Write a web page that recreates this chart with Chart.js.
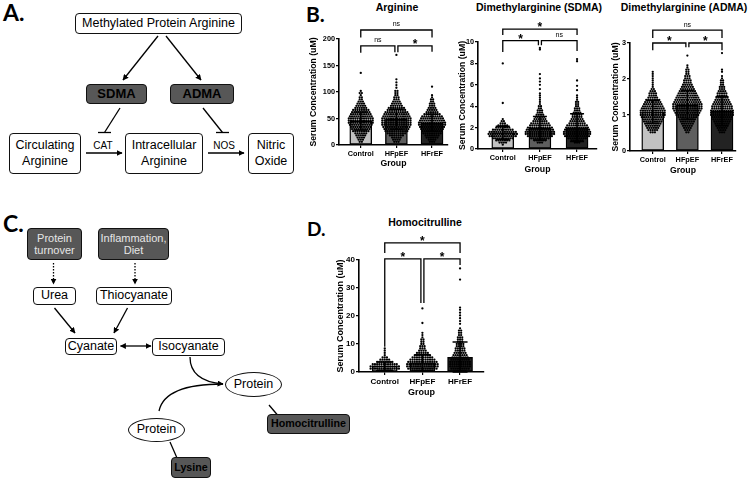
<!DOCTYPE html>
<html><head><meta charset="utf-8">
<script src="https://cdn.jsdelivr.net/npm/chart.js@4.4.1/dist/chart.umd.min.js"></script>
<style>
html,body{margin:0;padding:0;background:#fff}
body{width:750px;height:481px;position:relative;overflow:hidden;font-family:"Liberation Sans",Arial,sans-serif;color:#000}
.box{position:absolute;box-sizing:border-box;border:1.3px solid #111;border-radius:4px;background:#fff;display:flex;align-items:center;justify-content:center;text-align:center;font-size:12.5px;line-height:15.5px;white-space:nowrap}
.dark{background:#575757;border-radius:4px}
.ell{border-radius:50%}
.lbl{position:absolute;font-size:10px;transform:translate(-50%,-50%);white-space:nowrap}
.ttl{position:absolute;font-weight:bold;font-size:10.5px;transform:translate(-50%,-50%);white-space:nowrap}
.let{position:absolute;font-family:Lato,"Open Sans",sans-serif;font-weight:bold;line-height:1;white-space:nowrap}
canvas{position:absolute}
svg{position:absolute;left:0;top:0}
</style></head><body>

<svg width="750" height="481">
<defs>
<marker id="ah" viewBox="0 0 10 10" refX="9" refY="5" markerWidth="6" markerHeight="6" markerUnits="userSpaceOnUse" orient="auto-start-reverse"><path d="M0,0 L10,5 L0,10 z" fill="#000"/></marker>
</defs>
<g stroke="#000" stroke-width="1.3" fill="none">
<line x1="158" y1="36" x2="123" y2="80" marker-end="url(#ah)"/>
<line x1="166" y1="36" x2="201" y2="80" marker-end="url(#ah)"/>
<line x1="120" y1="108" x2="104.5" y2="132.5"/>
<line x1="98" y1="132.5" x2="111" y2="132.5"/>
<line x1="203" y1="108" x2="222.5" y2="132.5"/>
<line x1="216" y1="132.5" x2="229" y2="132.5"/>
<line x1="86" y1="153" x2="122" y2="153" marker-end="url(#ah)"/>
<line x1="208" y1="153" x2="244" y2="153" marker-end="url(#ah)"/>
<line x1="53.5" y1="263" x2="53.5" y2="284" stroke-dasharray="1.5,1.5" marker-end="url(#ah)"/>
<line x1="135" y1="263" x2="135" y2="284" stroke-dasharray="1.5,1.5" marker-end="url(#ah)"/>
<line x1="54.5" y1="308" x2="75" y2="333" marker-end="url(#ah)"/>
<line x1="127.5" y1="308" x2="114" y2="333" marker-end="url(#ah)"/>
<line x1="120.5" y1="346" x2="151" y2="346" marker-start="url(#ah)" marker-end="url(#ah)"/>
<path d="M190,357 C190,373 200,382 223,384" marker-end="url(#ah)"/>
<path d="M159,411 C163,392 186,384 223,384"/>
<line x1="269" y1="405" x2="277.5" y2="415"/>
<line x1="170" y1="442" x2="177" y2="458"/>
</g>
</svg>

<div class="let" style="left:3px;top:1px;font-size:23px">A.</div>
<div class="box" style="left:75px;top:13px;width:167px;height:21px">Methylated Protein Arginine</div>
<div class="box dark" style="left:86px;top:84px;width:61px;height:20px;font-weight:bold;font-size:13px">SDMA</div>
<div class="box dark" style="left:170px;top:84px;width:64px;height:20px;font-weight:bold;font-size:13px">ADMA</div>
<div class="box" style="left:9px;top:133px;width:72px;height:41px">Circulating<br>Arginine</div>
<div class="box" style="left:125px;top:133px;width:78px;height:41px">Intracellular<br>Arginine</div>
<div class="box" style="left:248px;top:133px;width:46px;height:41px">Nitric<br>Oxide</div>
<div class="lbl" style="left:103px;top:145px">CAT</div>
<div class="lbl" style="left:224px;top:145px">NOS</div>

<div class="let" style="left:3px;top:212px;font-size:23px">C.</div>
<div class="box dark" style="left:27px;top:228px;width:55px;height:32px;font-size:11px;line-height:12.5px;color:#e6e6e6">Protein<br>turnover</div>
<div class="box dark" style="left:98px;top:228px;width:71px;height:32px;font-size:11px;line-height:12.5px;color:#e6e6e6">Inflammation,<br>Diet</div>
<div class="box" style="left:33px;top:287px;width:43px;height:18px">Urea</div>
<div class="box" style="left:96px;top:287px;width:76px;height:18px">Thiocyanate</div>
<div class="box" style="left:65px;top:338px;width:52px;height:17px">Cyanate</div>
<div class="box" style="left:152px;top:338px;width:73px;height:18px">Isocyanate</div>
<div class="box ell" style="left:225px;top:372px;width:57px;height:25px">Protein</div>
<div class="box ell" style="left:128px;top:418px;width:57px;height:24px">Protein</div>
<div class="box dark" style="left:267px;top:414px;width:83px;height:20px;font-weight:bold;font-size:10.7px">Homocitrulline</div>
<div class="box dark" style="left:171px;top:457px;width:40px;height:21px;font-weight:bold;font-size:10.7px">Lysine</div>

<div class="let" style="left:306px;top:3px;font-size:21px">B.</div>
<div class="let" style="left:307px;top:219px;font-size:19px">D.</div>
<div class="ttl" style="left:397px;top:7px">Arginine</div>
<div class="ttl" style="left:539px;top:7px">Dimethylarginine (SDMA)</div>
<div class="ttl" style="left:684px;top:7px">Dimethylarginine (ADMA)</div>
<div class="ttl" style="left:425px;top:222px">Homocitrulline</div>

<canvas id="c1" width="149" height="169" style="left:300px;top:0px"></canvas>
<canvas id="c2" width="158" height="175" style="left:440px;top:0px"></canvas>
<canvas id="c3" width="142" height="176" style="left:595px;top:0px"></canvas>
<canvas id="c4" width="160" height="208" style="left:325px;top:190px"></canvas>

<script>
// ---------- data ----------
const groups = ['Control', 'HFpEF', 'HFrEF'];

// Arginine (uM)
const argTicks = [0, 50, 100, 150, 200];
const argMean = [45.5, 48.5, 42];
const argSD = [17, 19, 16];
const argBins = [6,10,14,18,22,26,30,34,38,42,46,50,54,58,62,66,70,74,78,82,86,90,94,98,102];
const argCtrl = [2,3,4,5,6,8,9,10,11,12,12,12,11,10,9,8,6,5,4,3,2,2,1,2,1];
const argPef  = [3,4,5,7,9,11,12,13,14,14,14,14,13,12,11,9,8,6,5,4,3,3,2,2,2];
const argRef  = [3,4,6,7,9,10,11,12,13,13,12,11,10,8,6,5,4,3,3,2,2,1,1,0,0];
const argOutCtrl = [136];
const argOutPef = [108, 113, 118, 124, 170];
const argOutRef = [110];

// SDMA (uM)
const sdTicks = [0, 2, 4, 6, 8, 10];
const sdMean = [1.52, 1.93, 1.99];
const sdSD = [0.6, 1.1, 1.3];
const sdBins = [0.4,0.6,0.8,1.0,1.2,1.4,1.6,1.8,2.0,2.2,2.4,2.6,2.8,3.0,3.2,3.4,3.6,3.8,4.0,4.2,4.4,4.6,4.8,5.0,5.2];
const sdCtrl = [1,4,7,10,13,14,13,10,7,5,3,2,1,0,0,0,0,0,0,0,0,0,0,0,0];
const sdPef  = [0,3,6,9,12,14,14,13,12,10,9,7,6,5,4,3,3,2,2,1,1,1,1,1,1];
const sdRef  = [0,3,6,9,12,13,13,12,11,10,8,7,6,5,5,4,3,3,2,2,2,1,1,1,0];
const sdOutCtrl = [4.3, 8.0];
const sdOutPef = [5.6, 6.0, 6.3, 6.6, 7.0, 9.3, 9.45];
const sdOutRef = [5.5, 5.9, 6.4, 8.2, 8.4];

// ADMA (uM)
const adTicks = [0, 1, 2, 3];
const adMean = [1.09, 1.28, 1.11];
const adSD = [0.32, 0.4, 0.4];
const adBins = [0.52,0.58,0.64,0.70,0.76,0.82,0.88,0.94,1.00,1.06,1.12,1.18,1.24,1.30,1.36,1.42,1.48,1.54,1.60,1.66,1.72,1.78,1.84,1.90,1.96,2.02,2.08,2.14,2.20,2.26,2.32,2.38];
const adCtrl = [3,5,6,7,8,9,10,11,12,12,12,11,10,9,8,7,5,4,4,3,2,1,1,1,1,1,1,1,1,0,0,0];
const adPef  = [2,3,4,5,6,7,8,9,11,12,13,14,14,14,13,12,11,10,9,8,7,6,5,4,4,3,3,2,2,2,1,1];
const adRef  = [3,4,5,6,7,8,9,10,11,11,11,10,10,9,8,7,6,5,5,4,3,3,2,2,2,1,1,0,1,1,0,0];
const adOutCtrl = [];
const adOutPef = [2.65];
const adOutRef = [2.72];

// Homocitrulline (uM)
const hcTicks = [0, 10, 20, 30, 40];
const hcMean = [2.1, 3.3, 5.2];
const hcSD = [1.5, 2.9, 5.5];
const hcBins = [0.4,1.2,2.0,2.8,3.6,4.4,5.2,6.0,6.8,7.6,8.4,9.2,10.0,10.8,11.6,12.4,13.2,14.0,14.8,15.6];
const hcCtrl = [8,14,14,12,8,5,3,1,1,1,1,0,0,0,0,0,0,0,0,0];
const hcPef  = [10,14,15,15,14,12,10,8,6,4,3,3,2,2,2,1,1,1,0,0];
const hcRef  = [6,9,10,10,10,9,8,7,6,5,5,4,4,3,3,3,2,2,2,1];
const hcOutCtrl = [];
const hcOutPef = [17.5, 22.7];
const hcOutRef = [17.2, 18.2, 19.2, 20.2, 21.2, 22.2, 23.0, 33.0, 37.0];

// ---------- drawing ----------
const FONT = '"Liberation Sans", Arial, sans-serif';
Chart.defaults.font.family = FONT;
const barColors = ['#c2c2c2', '#5e5e5e', '#232323'];

function expand(bins, counts, extra, g, dx) {
  const pts = [];
  bins.forEach((v, k) => {
    const n = counts[k];
    for (let i = 0; i < n; i++) pts.push({x: g + (i - (n - 1) / 2) * dx, y: v});
  });
  extra.forEach(v => pts.push({x: g, y: v}));
  return pts;
}

function errPlugin(means, sds, cap) {
  return {id: 'errbars', afterDatasetsDraw(chart) {
    const {ctx, scales: {x, y}} = chart;
    ctx.save(); ctx.strokeStyle = '#000'; ctx.lineWidth = 1.5;
    means.forEach((m, i) => {
      const px = x.getPixelForValue(i);
      const t = y.getPixelForValue(m + sds[i]);
      const b = y.getPixelForValue(Math.max(0, m - sds[i]));
      ctx.beginPath();
      ctx.moveTo(px, t); ctx.lineTo(px, b);
      ctx.moveTo(px - cap / 2, t); ctx.lineTo(px + cap / 2, t);
      ctx.moveTo(px - cap / 2, b); ctx.lineTo(px + cap / 2, b);
      ctx.stroke();
    });
    ctx.restore();
  }};
}

function bracketPlugin(list) {
  return {id: 'brackets', afterDraw(chart) {
    const {ctx, scales: {x, y}} = chart;
    ctx.save(); ctx.strokeStyle = '#000'; ctx.fillStyle = '#000'; ctx.lineWidth = 1.3;
    list.forEach(b => {
      const xa = x.getPixelForValue(b.a) + (b.ia || 0);
      const xb = x.getPixelForValue(b.b) - (b.ib || 0);
      const yl = y.getPixelForValue(b.y);
      ctx.beginPath();
      ctx.moveTo(xa, y.getPixelForValue(b.ya)); ctx.lineTo(xa, yl);
      ctx.lineTo(xb, yl); ctx.lineTo(xb, y.getPixelForValue(b.yb));
      ctx.stroke();
      const cx = (xa + xb) / 2;
      ctx.textAlign = 'center'; ctx.textBaseline = 'alphabetic';
      if (b.label === '*') { ctx.font = 'bold 12px ' + FONT; ctx.fillText('*', cx, yl + 2); }
      else { ctx.font = '7px ' + FONT; ctx.fillText(b.label, cx, yl - 3.5); }
    });
    ctx.restore();
  }};
}

function build(id, c) {
  const areaW = c.W - c.yWidth;
  const dx = 2.2 * (c.xmax - c.xmin) / areaW;
  const datasets = [{
    type: 'bar', data: c.means.map((m, i) => ({x: i, y: m})),
    backgroundColor: barColors, borderColor: '#000', borderWidth: 1.4, borderSkipped: false,
    barThickness: c.barW, order: 3
  }];
  c.counts.forEach((cnt, g) => datasets.push({
    type: 'scatter', data: expand(c.bins, cnt, c.extras[g], g, dx),
    backgroundColor: '#000', borderColor: '#000', pointRadius: 1.15, pointHoverRadius: 1.15,
    pointBorderWidth: 0, order: 1
  }));
  const tickFont = {family: FONT, size: c.tickSize, weight: 'bold'};
  const titleFont = {family: FONT, size: c.titleSize, weight: 'bold'};
  const gridOpt = {display: true, drawOnChartArea: false, drawTicks: true, tickLength: 3, color: '#000', lineWidth: 1.2, offset: false};
  const borderOpt = {display: true, color: '#000', width: 1.6};
  new Chart(document.getElementById(id), {
    type: 'bar',
    data: {datasets},
    options: {
      responsive: false, animation: false, events: [],
      layout: {padding: {top: c.padTop, left: 0, right: 0, bottom: 0}},
      plugins: {legend: {display: false}, tooltip: {enabled: false}},
      scales: {
        x: {
          type: 'linear', min: c.xmin, max: c.xmax, offset: false,
          afterBuildTicks: s => { s.ticks = [0, 1, 2].map(v => ({value: v})); },
          afterFit: s => { s.height = c.xHeight; },
          ticks: {callback: v => groups[v], color: '#000', font: tickFont, padding: 2, maxRotation: 0, autoSkip: false},
          grid: gridOpt, border: borderOpt,
          title: {display: true, text: 'Group', color: '#000', font: titleFont, padding: {top: 0, bottom: 0}}
        },
        y: {
          min: 0, max: c.ymax,
          afterBuildTicks: s => { s.ticks = c.ticks.map(v => ({value: v})); },
          afterFit: s => { s.width = c.yWidth; },
          ticks: {color: '#000', font: tickFont, padding: 1},
          grid: gridOpt, border: borderOpt,
          title: {display: true, text: 'Serum Concentration (uM)', color: '#000', font: titleFont, padding: {top: c.yTitlePad, bottom: 0}}
        }
      }
    },
    plugins: [errPlugin(c.means, c.sds, c.cap), bracketPlugin(c.brackets)]
  });
}

build('c1', {
  W: 149, padTop: 39, yWidth: 39, xHeight: 24, yTitlePad: 8, xmin: -0.611, xmax: 2.444, ymax: 200,
  barW: 22, cap: 13, tickSize: 7.3, titleSize: 8.7,
  ticks: argTicks, means: argMean, sds: argSD, bins: argBins,
  counts: [argCtrl, argPef, argRef], extras: [argOutCtrl, argOutPef, argOutRef],
  brackets: [
    {a: 0, b: 2, y: 217, ya: 203, yb: 203, label: 'ns'},
    {a: 0, b: 1, y: 187, ya: 174, yb: 175, ib: 1.5, label: 'ns'},
    {a: 1, b: 2, y: 187, ya: 175, yb: 176, ia: 1.5, label: '*'}
  ]
});
build('c2', {
  W: 158, padTop: 42, yWidth: 38, xHeight: 26, yTitlePad: 17, xmin: -0.667, xmax: 2.533, ymax: 10,
  barW: 22, cap: 14, tickSize: 7.3, titleSize: 8.7,
  ticks: sdTicks, means: sdMean, sds: sdSD, bins: sdBins,
  counts: [sdCtrl, sdPef, sdRef], extras: [sdOutCtrl, sdOutPef, sdOutRef],
  brackets: [
    {a: 0, b: 2, y: 11.2, ya: 10.65, yb: 10.65, label: '*'},
    {a: 0, b: 1, y: 10.12, ya: 9.07, yb: 9.7, ib: 1.5, label: '*'},
    {a: 1, b: 2, y: 10.12, ya: 9.7, yb: 9.16, ia: 1.5, label: 'ns'}
  ]
});
build('c3', {
  W: 142, padTop: 43, yWidth: 35, xHeight: 25, yTitlePad: 15, xmin: -0.657, xmax: 2.4, ymax: 3,
  barW: 22, cap: 13, tickSize: 7.3, titleSize: 8.7,
  ticks: adTicks, means: adMean, sds: adSD, bins: adBins,
  counts: [adCtrl, adPef, adRef], extras: [adOutCtrl, adOutPef, adOutRef],
  brackets: [
    {a: 0, b: 2, y: 3.36, ya: 3.14, yb: 3.14, label: 'ns'},
    {a: 0, b: 1, y: 3.0, ya: 2.8, yb: 2.88, ib: 1.5, label: '*'},
    {a: 1, b: 2, y: 3.0, ya: 2.88, yb: 2.8, ia: 1.5, label: '*'}
  ]
});
build('c4', {
  W: 160, padTop: 70, yWidth: 34, xHeight: 26, yTitlePad: 10, xmin: -0.684, xmax: 2.632, ymax: 40,
  barW: 25, cap: 15, tickSize: 8, titleSize: 9,
  ticks: hcTicks, means: hcMean, sds: hcSD, bins: hcBins,
  counts: [hcCtrl, hcPef, hcRef], extras: [hcOutCtrl, hcOutPef, hcOutRef],
  brackets: [
    {a: 0, b: 2, y: 46.1, ya: 42.5, yb: 42.5, label: '*'},
    {a: 0, b: 1, y: 40.4, ya: 9, yb: 24.6, ib: 1.5, label: '*'},
    {a: 1, b: 2, y: 40.4, ya: 24.6, yb: 38.2, ia: 1.5, label: '*'}
  ]
});
</script>
</body></html>
